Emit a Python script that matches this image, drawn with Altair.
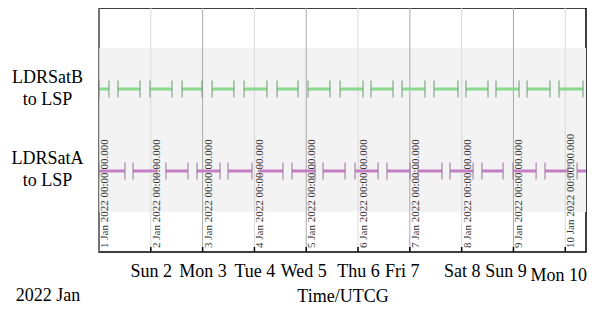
import altair as alt
import pandas as pd

# ---------------- data ----------------
rows = ["LDRSatB to LSP", "LDRSatA to LSP"]

# access intervals, hours after 2022-01-01 00:00 UTCG
b_start_h = [0.0, 8.8, 23.6, 38.5, 52.4, 67.2, 82.5, 96.8, 111.7, 126.0, 140.4, 155.2, 170.0, 183.9, 198.3, 213.1]
b_end_h = [4.6, 19.0, 33.8, 47.7, 62.5, 77.8, 92.2, 107.0, 122.3, 136.2, 151.0, 166.3, 180.2, 194.6, 208.9, 224.2]
a_start_h = [0.0, 15.8, 31.0, 45.4, 59.8, 74.6, 89.4, 103.8, 118.6, 133.4, 147.8, 162.6, 177.4, 191.8, 206.6, 221.5]
a_end_h = [12.0, 26.9, 41.2, 56.1, 70.9, 85.2, 100.1, 114.0, 129.3, 144.1, 158.9, 173.3, 187.2, 202.5, 217.3, 230.0]

day_numbers = [1, 2, 3, 4, 5, 6, 7, 8, 9, 10]
day_stamp_labels = [
    "1 Jan 2022 00:00:00.000", "2 Jan 2022 00:00:00.000", "3 Jan 2022 00:00:00.000",
    "4 Jan 2022 00:00:00.000", "5 Jan 2022 00:00:00.000", "6 Jan 2022 00:00:00.000",
    "7 Jan 2022 00:00:00.000", "8 Jan 2022 00:00:00.000", "9 Jan 2022 00:00:00.000",
    "10 Jan 2022 00:00:00.000",
]
tick_days = [2, 3, 4, 5, 6, 7, 8, 9, 10]
year_month_label = ["2022 Jan"]
x_title = "Time/UTCG"

# ---------------- tables ----------------
base = pd.Timestamp("2022-01-01T00:00:00")


def iso(h):
    return (base + pd.Timedelta(hours=h)).strftime("%Y-%m-%dT%H:%M:%SZ")


intervals = pd.DataFrame(
    [{"row": rows[0], "start": iso(s), "end": iso(e)} for s, e in zip(b_start_h, b_end_h)]
    + [{"row": rows[1], "start": iso(s), "end": iso(e)} for s, e in zip(a_start_h, a_end_h)]
)
caps = pd.DataFrame(
    [{"row": r["row"], "t": r["start"]} for _, r in intervals.iterrows()]
    + [{"row": r["row"], "t": r["end"]} for _, r in intervals.iterrows()]
)
days_df = pd.DataFrame({
    "day": [f"2022-01-{d:02d}T00:00:00Z" for d in day_numbers],
    "stamp": day_stamp_labels,
})
ticks_df = pd.DataFrame({"day": [f"2022-01-{d:02d}T00:00:00Z" for d in tick_days]})
rows_df = pd.DataFrame({"row": rows})
ym_df = pd.DataFrame({"t": year_month_label})

FONT = "Liberation Serif"
W, H = 487, 244
FS = 18

xscale = alt.Scale(
    type="utc",
    domain=[alt.DateTime(year=2022, month=1, date=1, utc=True),
            alt.DateTime(year=2022, month=1, date=10, hours=9, minutes=36, utc=True)],
)
yscale = alt.Scale(type="point", domain=rows, padding=0.988)

xaxis = alt.Axis(
    values=[alt.DateTime(year=2022, month=1, date=d, utc=True) for d in tick_days],
    labelExpr="utcFormat(datum.value, '%a %-d')",
    domain=False, ticks=False, grid=False,
    labelFont=FONT, labelFontSize=FS, labelColor="black",
    labelOverlap=False, labelFlush=False,
    labelPadding={"condition": {"test": "utcdate(datum.value) == 10", "value": 14}, "value": 10},
    labelOffset={"condition": [
        {"test": "utcdate(datum.value) == 5", "value": -3},
        {"test": "utcdate(datum.value) == 7", "value": -8},
        {"test": "utcdate(datum.value) == 9", "value": -8},
        {"test": "utcdate(datum.value) == 10", "value": -7},
    ], "value": 0},
    title=x_title, titleFont=FONT, titleFontSize=FS, titleFontWeight="normal",
    titleColor="black", titleBaseline="alphabetic", titleY=49,
)
yaxis = alt.Axis(
    labelExpr="[split(datum.label, ' to ')[0], 'to ' + split(datum.label, ' to ')[1]]",
    domain=False, ticks=False, grid=False,
    labelFont=FONT, labelFontSize=FS, labelColor="black",
    labelAlign="center", labelBaseline="middle", labelLineHeight=22,
    labelOffset=-12, labelPadding=52, title=None,
)

bands = alt.Chart(rows_df).mark_rule(color="#f3f3f3", strokeWidth=82).encode(
    y=alt.Y("row:N", scale=yscale, axis=yaxis),
)

grid = alt.Chart(days_df).mark_rule(strokeWidth=1).encode(
    x=alt.X("day:T", scale=xscale, axis=xaxis),
    color=alt.condition("utcdate(datum.day) % 2 == 1", alt.value("#a9a9a9"), alt.value("#dadada")),
)

stamps = alt.Chart(days_df).mark_text(
    angle=270, align="left", baseline="top", font=FONT, fontSize=11, color="#333333",
).encode(
    x=alt.X("day:T", scale=xscale),
    y=alt.value(240),
    text="stamp:N",
)

lines = alt.Chart(intervals).mark_rule(strokeWidth=3, clip=True).encode(
    x=alt.X("start:T", scale=xscale),
    x2="end:T",
    y=alt.Y("row:N", scale=yscale),
    color=alt.Color("row:N", scale=alt.Scale(domain=rows, range=["#8ad98f", "#c47fc4"]), legend=None),
)

cap_marks = alt.Chart(caps).mark_tick(size=17, thickness=1.5, clip=True).encode(
    x=alt.X("t:T", scale=xscale),
    y=alt.Y("row:N", scale=yscale),
    color=alt.Color("row:N", scale=alt.Scale(domain=rows, range=["#6f9f76", "#9c7a9c"]), legend=None),
)

inner_ticks = alt.Chart(ticks_df).mark_rule(color="black", strokeWidth=1.5).encode(
    x=alt.X("day:T", scale=xscale),
    y=alt.value(H - 5),
    y2=alt.value(H),
)

ym = alt.Chart(ym_df).mark_text(
    font=FONT, fontSize=FS, color="black", align="center", baseline="alphabetic",
).encode(
    x=alt.value(-51),
    y=alt.value(293),
    text="t:N",
)

chart = alt.layer(bands, grid, stamps, lines, cap_marks, inner_ticks, ym).resolve_scale(
    color="independent"
).properties(
    width=W, height=H,
    autosize=alt.AutoSizeParams(type="none"),
    padding={"left": 91, "top": 0, "right": 1, "bottom": 53},
).configure(
    background="white", font=FONT,
).configure_axis(
    labelFont=FONT, titleFont=FONT,
).configure_text(
    font=FONT,
).configure_view(
    stroke="black", strokeWidth=1.5,
)

chart.save("out.html", embed_options={"renderer": "svg", "actions": False})
